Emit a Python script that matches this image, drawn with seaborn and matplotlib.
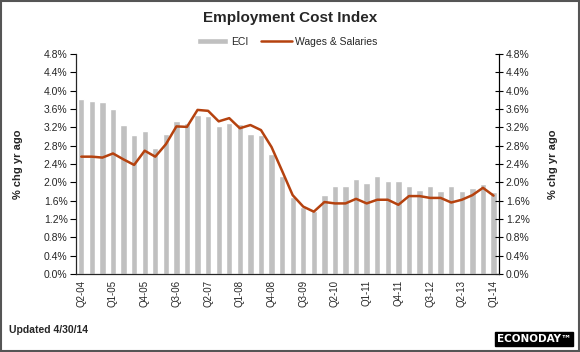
import numpy as np
import pandas as pd
import matplotlib
matplotlib.use('Agg')
import matplotlib.pyplot as plt
from matplotlib.patches import Rectangle
from matplotlib.ticker import FuncFormatter
import seaborn as sns

# quarters Q2-04 .. Q1-14
quarters = []
yr, q = 4, 2
for i in range(40):
    quarters.append(f"Q{q}-{yr:02d}")
    q += 1
    if q > 4:
        q = 1
        yr += 1

# ECI, % chg yr ago
eci = [3.82, 3.78, 3.76, 3.60, 3.25, 3.03, 3.11, 2.75, 3.05, 3.33,
       3.30, 3.47, 3.45, 3.23, 3.30, 3.28, 3.05, 3.03, 2.62, 2.13,
       1.69, 1.47, 1.38, 1.73, 1.91, 1.91, 2.08, 1.98, 2.13, 2.02,
       2.02, 1.93, 1.83, 1.91, 1.81, 1.91, 1.81, 1.88, 1.96, 1.78]

# Wages & Salaries, % chg yr ago
wages = [2.56, 2.56, 2.54, 2.63, 2.50, 2.38, 2.69, 2.56, 2.83, 3.22,
         3.21, 3.58, 3.56, 3.33, 3.40, 3.18, 3.25, 3.14, 2.77, 2.25,
         1.72, 1.47, 1.36, 1.57, 1.54, 1.54, 1.64, 1.54, 1.62, 1.62,
         1.51, 1.70, 1.70, 1.66, 1.66, 1.56, 1.62, 1.72, 1.88, 1.71]

yticks = [0.0, 0.4, 0.8, 1.2, 1.6, 2.0, 2.4, 2.8, 3.2, 3.6, 4.0, 4.4, 4.8]

df = pd.DataFrame({'pos': np.arange(len(quarters)), 'quarter': quarters,
                   'ECI': eci, 'Wages': wages})

sns.set_style('white')
plt.rcParams['font.family'] = ['Liberation Sans', 'DejaVu Sans']

fig = plt.figure(figsize=(5.8, 3.52), dpi=100)
ax = fig.add_axes([0.131, 0.2216, 0.729, 0.625])

sns.barplot(data=df, x='pos', y='ECI', color='#c0c0c0', saturation=1,
            width=0.6, label='ECI', ax=ax)
sns.lineplot(data=df, x='pos', y='Wages', color='#b5420f', linewidth=1.8,
             label='Wages & Salaries', ax=ax)

ax.set_xlim(-0.5, 39.5)
ax.set_ylim(0, 4.8)
ax.set_yticks(yticks)
pct = FuncFormatter(lambda v, p: f"{v:.1f}%")
ax.yaxis.set_major_formatter(pct)
ax.set_xticks(np.arange(0, 40, 3))
ax.set_xticklabels(quarters[::3], rotation=90, fontsize=7)
ax.set_xticks(np.arange(-0.5, 40, 2), minor=True)
ax.tick_params(axis='x', which='major', length=0, pad=4)
ax.tick_params(axis='x', which='minor', length=4, width=0.8, color='black', direction='out')
ax.tick_params(axis='y', length=4, width=0.8, color='black', direction='out',
               labelsize=7.5, pad=2)
ax.set_xlabel('')
ax.set_ylabel('% chg yr ago', fontsize=8, fontweight='bold', labelpad=15)

for s in ['left', 'right', 'bottom']:
    ax.spines[s].set_visible(True)
    ax.spines[s].set_color('black')
    ax.spines[s].set_linewidth(0.8)
ax.spines['top'].set_visible(False)

ax2 = ax.twinx()
ax2.set_ylim(0, 4.8)
ax2.set_yticks(yticks)
ax2.yaxis.set_major_formatter(pct)
ax2.tick_params(axis='y', length=6, width=0.8, color='black', direction='inout',
                labelsize=7.5, pad=2)
ax2.set_ylabel('% chg yr ago', fontsize=8, fontweight='bold', labelpad=13)
ax2.spines['top'].set_visible(False)
ax2.spines['right'].set_color('black')
ax2.spines['right'].set_linewidth(0.8)

handles, labels = ax.get_legend_handles_labels()
order = [labels.index('ECI'), labels.index('Wages & Salaries')]
ax.legend([handles[i] for i in order], [labels[i] for i in order],
          loc='lower center', bbox_to_anchor=(0.5, 1.0), ncol=2, frameon=False,
          fontsize=7.5, handlelength=3, handleheight=0.5, columnspacing=1.2,
          handletextpad=0.3, borderaxespad=0.3)

fig.text(0.5, 0.948, 'Employment Cost Index', ha='center', va='center',
         fontsize=11, fontweight='bold')
fig.text(0.016, 0.062, 'Updated 4/30/14', ha='left', va='center',
         fontsize=7.5, fontweight='bold')
fig.text(0.985, 0.022, 'ECONODAY\u2122', ha='right', va='bottom', fontsize=7.5,
         fontweight='bold', color='white', family='DejaVu Sans',
         bbox=dict(boxstyle='square,pad=0.2', facecolor='black', edgecolor='black'))

fig.patches.append(Rectangle((0.002, 0.003), 0.996, 0.994, transform=fig.transFigure,
                             fill=False, edgecolor='#555555', linewidth=1.5))

fig.savefig('out.png', dpi=100)
